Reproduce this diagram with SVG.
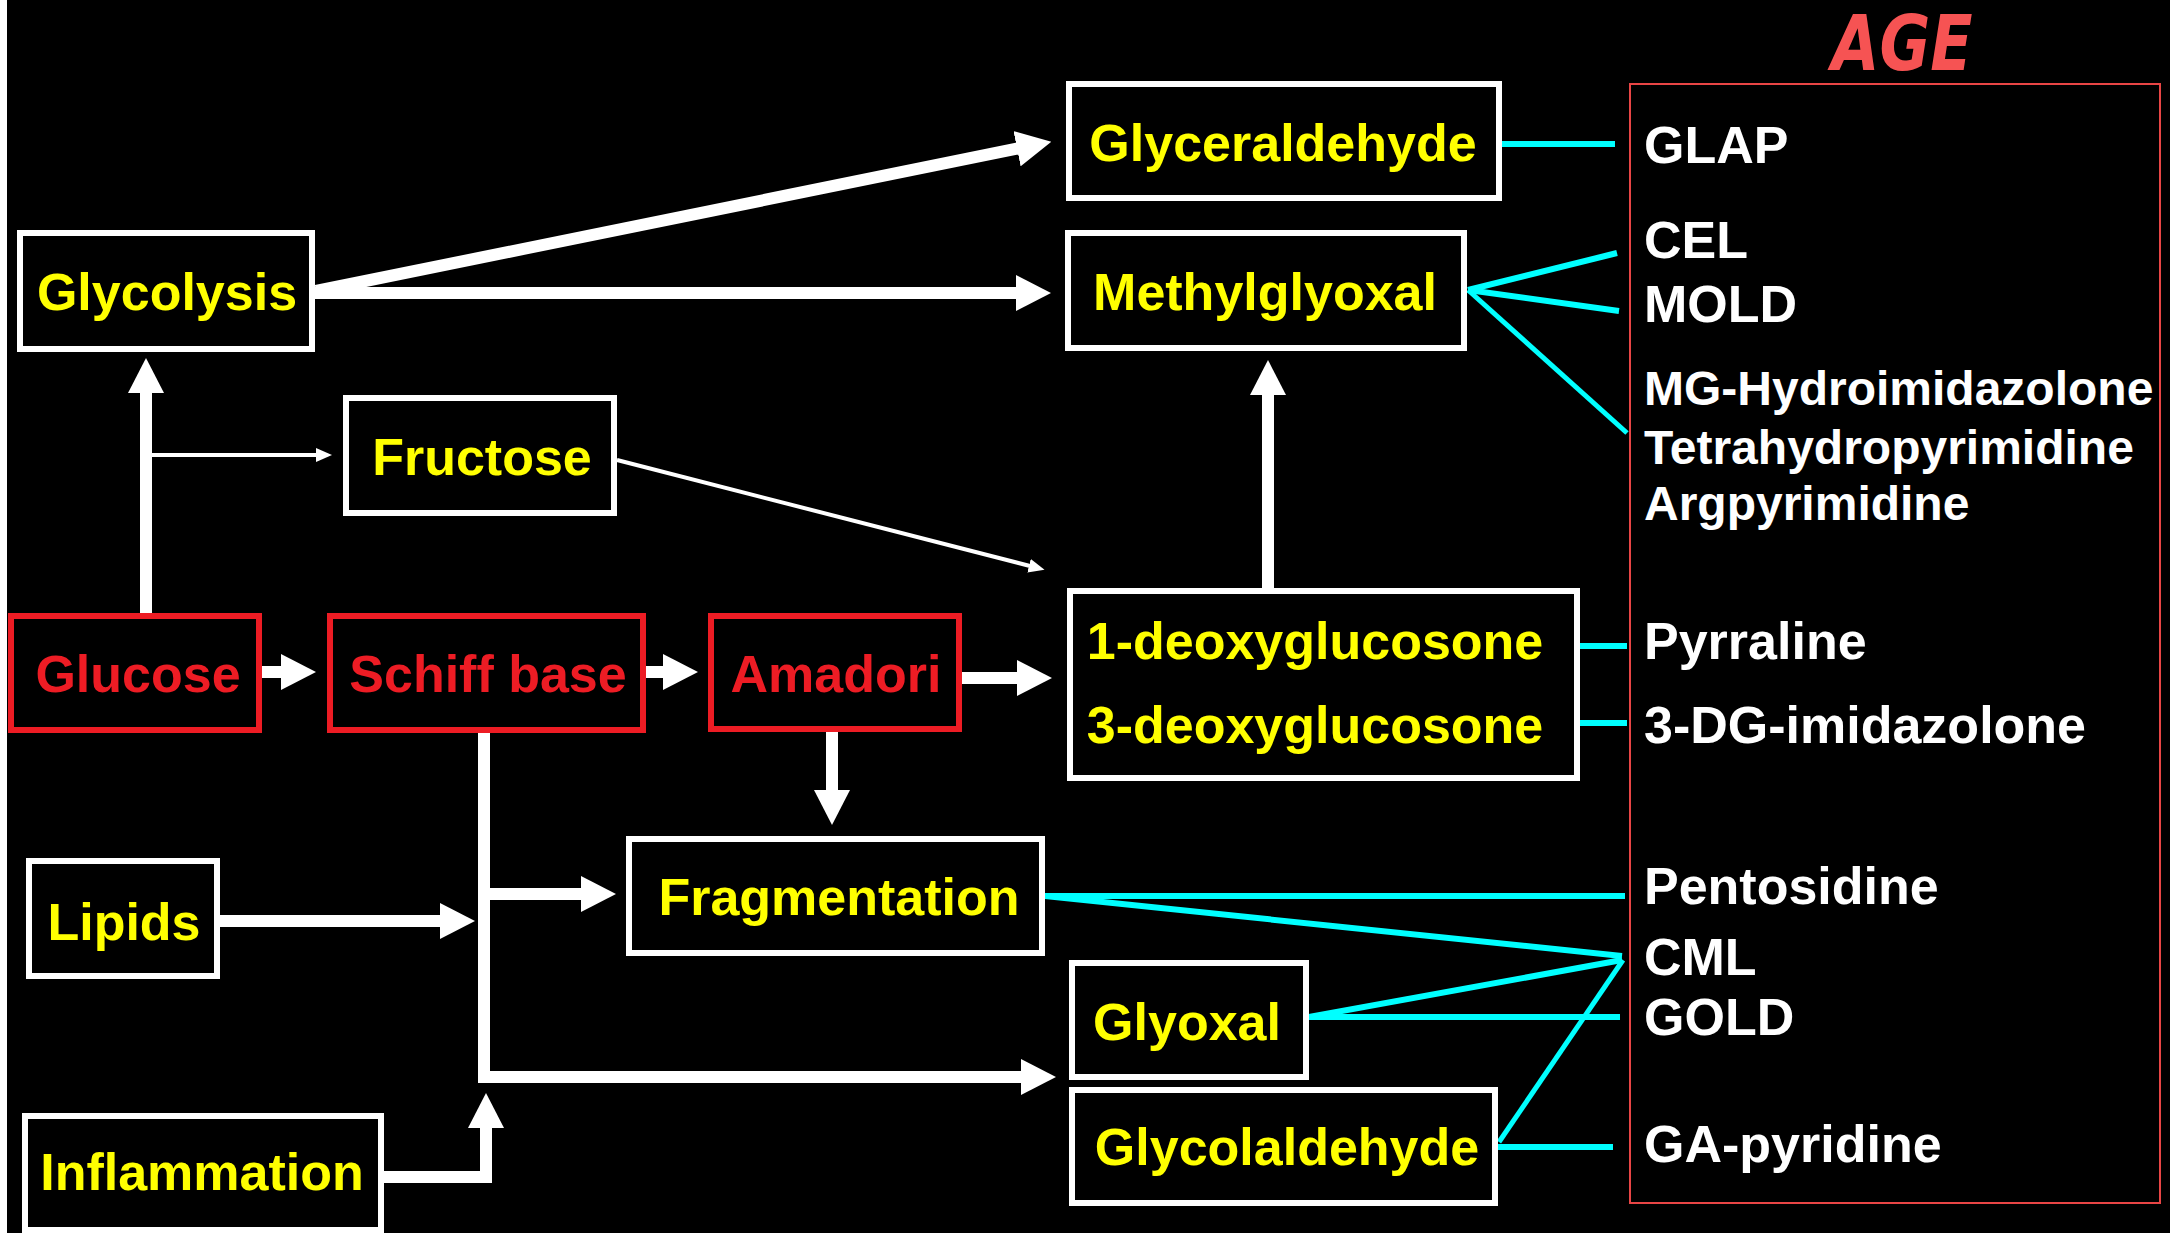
<svg xmlns="http://www.w3.org/2000/svg" width="2170" height="1233" viewBox="0 0 2170 1233">
<defs>
<style>
.bw{fill:#000;stroke:#fff;stroke-width:6}
.br{fill:#000;stroke:#ed1c24;stroke-width:6}
.t{font-family:"Liberation Sans",Arial,sans-serif;font-weight:bold;font-size:52px}
.y{fill:#ffff00;text-anchor:middle}
.r{fill:#ed1c24;text-anchor:middle}
.w{fill:#fff}
.s{font-size:48px}
.a{fill:none;stroke:#fff;stroke-width:12;stroke-linejoin:miter}
.an{fill:none;stroke:#fff;stroke-width:4}
.c{fill:none;stroke:#00ffff;stroke-width:6}
.cn{fill:none;stroke:#00ffff;stroke-width:5}
</style>
<marker id="ah" markerUnits="userSpaceOnUse" viewBox="0 0 35 36" markerWidth="35" markerHeight="36" refX="1" refY="18" orient="auto">
<path d="M0,0 L35,18 L0,36 Z" fill="#fff"/>
</marker>
<marker id="as" markerUnits="userSpaceOnUse" viewBox="0 0 16 14" markerWidth="16" markerHeight="14" refX="1" refY="7" orient="auto">
<path d="M0,0 L16,7 L0,14 Z" fill="#fff"/>
</marker>
</defs>
<rect x="0" y="0" width="2170" height="1233" fill="#000"/>
<rect x="0" y="0" width="7" height="1233" fill="#fff"/>

<g id="age-title">
<text x="1902" y="70" font-family="'DejaVu Sans',sans-serif" font-weight="bold" font-style="italic" font-size="76" fill="#f65353" text-anchor="middle" textLength="141" lengthAdjust="spacingAndGlyphs">AGE</text>
</g>
<g id="age-box">
<rect x="1630" y="84" width="530" height="1119" fill="none" stroke="#e84545" stroke-width="2"/>
<text class="t w" x="1644" y="163">GLAP</text>
<text class="t w" x="1644" y="258">CEL</text>
<text class="t w" x="1644" y="322">MOLD</text>
<text class="t w s" x="1644" y="405">MG-Hydroimidazolone</text>
<text class="t w s" x="1644" y="464">Tetrahydropyrimidine</text>
<text class="t w s" x="1644" y="520">Argpyrimidine</text>
<text class="t w" x="1644" y="659">Pyrraline</text>
<text class="t w" x="1644" y="743">3-DG-imidazolone</text>
<text class="t w" x="1644" y="904">Pentosidine</text>
<text class="t w" x="1644" y="975">CML</text>
<text class="t w" x="1644" y="1035">GOLD</text>
<text class="t w" x="1644" y="1162">GA-pyridine</text>
</g>

<g id="connectors">
<path class="a" d="M316,291 L1018,148.5" marker-end="url(#ah)"/>
<path class="a" d="M315,293 H1017" marker-end="url(#ah)"/>
<path class="a" d="M146,613 V392" marker-end="url(#ah)"/>
<path class="an" d="M146,455 H317" marker-end="url(#as)"/>
<path class="an" d="M617,460 L1030,566" marker-end="url(#as)"/>
<path class="a" d="M262,672 H282" marker-end="url(#ah)"/>
<path class="a" d="M646,672 H664" marker-end="url(#ah)"/>
<path class="a" d="M962,678 H1018" marker-end="url(#ah)"/>
<path class="a" d="M832,732 V791" marker-end="url(#ah)"/>
<path class="a" d="M484,732 V1077 H1022" marker-end="url(#ah)"/>
<path class="a" d="M484,894 H582" marker-end="url(#ah)"/>
<path class="a" d="M220,921 H441" marker-end="url(#ah)"/>
<path class="a" d="M384,1177 H486 V1127" marker-end="url(#ah)"/>
<path class="a" d="M1268,588 V394" marker-end="url(#ah)"/>

<path class="c" d="M1500,144 H1615"/>
<path class="c" d="M1468,290 L1617,253"/>
<path class="c" d="M1468,290 L1619,311"/>
<path class="cn" d="M1468,290 L1627,433"/>
<path class="c" d="M1580,646 H1627"/>
<path class="c" d="M1580,723 H1627"/>
<path class="c" d="M1045,896 H1625"/>
<path class="c" d="M1045,896 L1622,956"/>
<path class="c" d="M1309,1017 L1622,960"/>
<path class="c" d="M1309,1017 H1620"/>
<path class="cn" d="M1499,1142 L1623,960"/>
<path class="c" d="M1498,1147 H1613"/>
</g>

<g id="glyceraldehyde"><rect class="bw" x="1069" y="84" width="430" height="114"/><text class="t y" x="1283" y="161">Glyceraldehyde</text></g>
<g id="methylglyoxal"><rect class="bw" x="1068" y="233" width="396" height="115"/><text class="t y" x="1265" y="310">Methylglyoxal</text></g>
<g id="glycolysis"><rect class="bw" x="20" y="233" width="292" height="116"/><text class="t y" x="167" y="310">Glycolysis</text></g>
<g id="fructose"><rect class="bw" x="346" y="398" width="268" height="115"/><text class="t y" x="482" y="475">Fructose</text></g>
<g id="glucose"><rect class="br" x="11" y="616" width="248" height="114"/><text class="t r" x="138" y="692">Glucose</text></g>
<g id="schiff-base"><rect class="br" x="330" y="616" width="313" height="114"/><text class="t r" x="488" y="692">Schiff base</text></g>
<g id="amadori"><rect class="br" x="711" y="616" width="248" height="113"/><text class="t r" x="836" y="692">Amadori</text></g>
<g id="deoxyglucosone"><rect class="bw" x="1070" y="591" width="507" height="187"/><text class="t y" x="1315" y="659">1-deoxyglucosone</text><text class="t y" x="1315" y="743">3-deoxyglucosone</text></g>
<g id="fragmentation"><rect class="bw" x="629" y="839" width="413" height="114"/><text class="t y" x="839" y="915">Fragmentation</text></g>
<g id="lipids"><rect class="bw" x="29" y="861" width="188" height="115"/><text class="t y" x="124" y="940">Lipids</text></g>
<g id="inflammation"><rect class="bw" x="25" y="1116" width="356" height="114"/><text class="t y" x="202" y="1190">Inflammation</text></g>
<g id="glyoxal"><rect class="bw" x="1072" y="963" width="234" height="114"/><text class="t y" x="1187" y="1040">Glyoxal</text></g>
<g id="glycolaldehyde"><rect class="bw" x="1072" y="1090" width="423" height="113"/><text class="t y" x="1287" y="1165">Glycolaldehyde</text></g>
</svg>
